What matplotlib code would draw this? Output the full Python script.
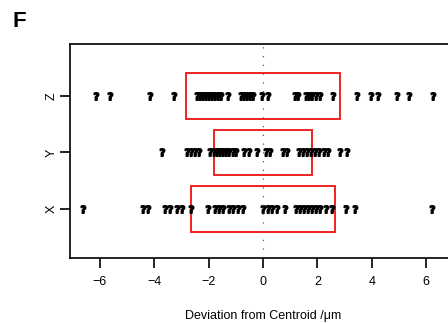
import numpy as np
import matplotlib
matplotlib.use("Agg")
import matplotlib.pyplot as plt
from matplotlib.patches import Rectangle

plt.rcParams['font.family'] = ['Liberation Sans', 'DejaVu Sans']

axes_names = ["X", "Y", "Z"]

dev_x = [-6.62, -4.41, -4.23, -3.60, -3.42, -3.16, -2.98, -2.65, -2.02, -1.76,
         -1.62, -1.47, -1.25, -1.10, -0.92, -0.74, 0.00, 0.18, 0.33, 0.51,
         0.81, 1.21, 1.36, 1.51, 1.65, 1.80, 1.95, 2.10, 2.32, 2.54,
         3.05, 3.38, 6.21]
dev_y = [-3.71, -2.79, -2.65, -2.50, -2.35, -1.95, -1.80, -1.69, -1.58, -1.47,
         -1.36, -1.25, -1.10, -0.99, -0.70, -0.51, -0.22, 0.11, 0.26, 0.74,
         0.88, 1.32, 1.47, 1.62, 1.76, 1.91, 2.06, 2.24, 2.39, 2.83, 3.09]
dev_z = [-6.14, -5.63, -4.15, -3.27, -2.43, -2.32, -2.21, -2.10, -1.99, -1.88,
         -1.76, -1.65, -1.54, -1.29, -0.81, -0.70, -0.59, -0.48, -0.37, -0.04,
         0.18, 1.18, 1.29, 1.58, 1.69, 1.80, 1.95, 2.10, 2.57, 3.46,
         3.97, 4.23, 4.93, 5.37, 6.25]

# half widths of the red boxes (X, Y, Z)
box_half = [2.65, 1.80, 2.83]

fig = plt.figure(figsize=(4.48, 3.23), dpi=100)
ax = fig.add_axes([0.156, 0.201, 0.862, 0.663])

for i, d in enumerate([dev_x, dev_y, dev_z]):
    ax.plot(d, np.full(len(d), i + 1), linestyle='none', marker=r'$\mathbf{?}$',
            markersize=5.5, color='black')
    ax.add_patch(Rectangle((-box_half[i], i + 1 - 0.4), 2 * box_half[i], 0.8,
                           fill=False, edgecolor='#ee2222', linewidth=1.4))

ax.axvline(0, color='#555555', linestyle=(0, (1, 6)), linewidth=0.9)

ax.set_xlim(-7.1, 7.1)
ax.set_ylim(0.13, 3.92)
ax.set_xticks([-6, -4, -2, 0, 2, 4, 6])
ax.set_xticklabels(['\u22126', '\u22124', '\u22122', '0', '2', '4', '6'])
ax.set_yticks([1, 2, 3])
ax.set_yticklabels(axes_names, rotation=90, va='center')
ax.tick_params(direction='out', length=7, width=1.2, labelsize=9)
ax.tick_params(axis='x', pad=6)
ax.tick_params(axis='y', pad=2)
for s in ax.spines.values():
    s.set_linewidth(1.2)
ax.set_xlabel('Deviation from Centroid /\u03bcm', fontsize=9, labelpad=16)

fig.text(0.027, 0.915, 'F', fontsize=16, fontweight='bold')

fig.savefig('out.png', dpi=100)
